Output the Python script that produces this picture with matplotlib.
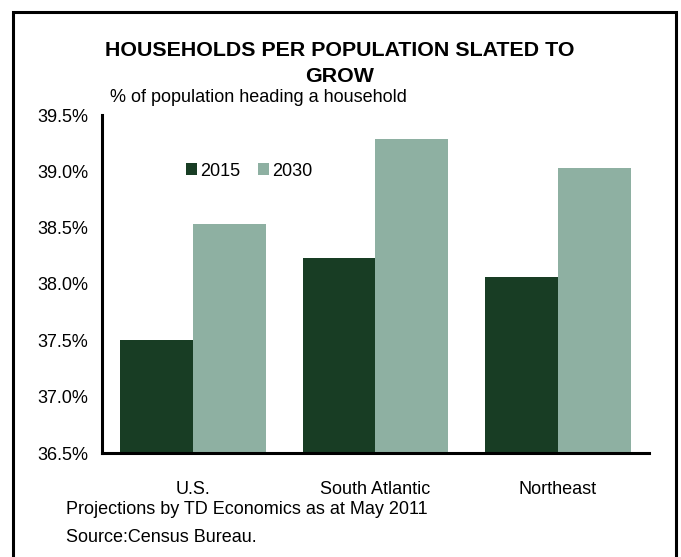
import matplotlib
matplotlib.use("Agg")
import matplotlib.pyplot as plt
from matplotlib.patches import Rectangle
import numpy as np

plt.rcParams['font.family'] = ['Liberation Sans', 'DejaVu Sans']

categories = ["U.S.", "South Atlantic", "Northeast"]
series_names = ["2015", "2030"]
values_2015 = [37.50, 38.23, 38.06]
values_2030 = [38.53, 39.29, 39.03]
yticks = [36.5, 37.0, 37.5, 38.0, 38.5, 39.0, 39.5]
colors = ["#183d24", "#8eb0a2"]

W, H = 681, 557
fig = plt.figure(figsize=(W/100, H/100), dpi=100)
ax = fig.add_axes([102/W, 1-453/H, (649-102)/W, (453-115)/H])

x = np.arange(len(categories))
bw = 0.4
ax.bar(x - bw/2, values_2015, width=bw, color=colors[0], label=series_names[0])
ax.bar(x + bw/2, values_2030, width=bw, color=colors[1], label=series_names[1])
ax.set_ylim(36.5, 39.5)
ax.set_xlim(-0.5, 2.5)
ax.set_yticks(yticks)
ax.set_yticklabels([f"{v:.1f}%" for v in yticks])
ax.set_xticks(x)
ax.set_xticklabels(categories)
ax.tick_params(axis='both', length=0, labelsize=13, colors='black')
ax.tick_params(axis='y', pad=10)
ax.tick_params(axis='x', pad=20)
for s in ['top', 'right']:
    ax.spines[s].set_visible(False)
for s in ['left', 'bottom']:
    ax.spines[s].set_linewidth(2.2)
    ax.spines[s].set_color('black')

leg = ax.legend(loc='center left', bbox_to_anchor=((186-102)/(649-102), 1-(171-115)/(453-115)),
                ncol=2, frameon=False, fontsize=13, handlelength=0.6, handleheight=0.6,
                handletextpad=0.2, columnspacing=0.95, borderaxespad=0, borderpad=0)

fig.text(340/W, 1-50/H, "HOUSEHOLDS PER POPULATION SLATED TO", ha='center', va='center',
         fontsize=15.4, fontweight='bold')
fig.text(340/W, 1-76/H, "GROW", ha='center', va='center', fontsize=15.4, fontweight='bold')
fig.text(110/W, 1-98/H, "% of population heading a household", ha='left', va='center', fontsize=13)
fig.text(66/W, 1-510/H, "Projections by TD Economics as at May 2011", ha='left', va='center', fontsize=13)
fig.text(66/W, 1-538/H, "Source:Census Bureau.", ha='left', va='center', fontsize=13)

fig.patches.append(Rectangle((13/W, -0.05), (676-13)/W, 1.05 - 12/H, transform=fig.transFigure,
                             fill=False, edgecolor='black', linewidth=2.2))

fig.savefig("out.png", dpi=100)
